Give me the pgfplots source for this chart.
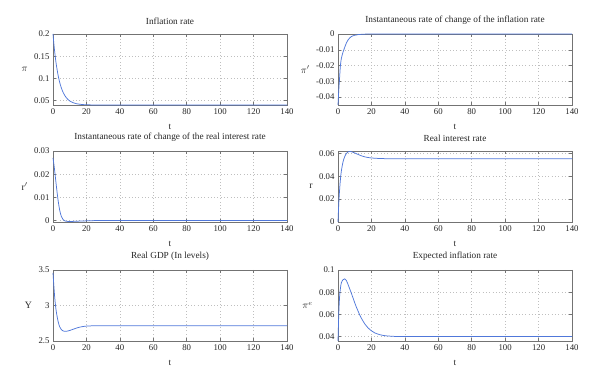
\documentclass[border=0pt]{standalone}
\usepackage{pgfplots}
\pgfplotsset{compat=1.18}
\usepackage{fontspec}
\setmainfont{Liberation Serif}
\definecolor{mblue}{RGB}{80,120,218}
\definecolor{framec}{RGB}{115,115,115}
\pgfplotsset{
 myax/.style={
  scale only axis, width=234bp, height=71bp,
  anchor=south west,
  xmin=0, xmax=140, xtick={0,20,...,140},
  grid=major, grid style={dash pattern=on 0.7pt off 2.6pt, black!25, line width=0.5pt},
  axis line style={framec, line width=0.8pt},
  tick style={framec, line width=0.5pt},
  major tick length=3bp,
  tick align=inside,
  clip=false,
  every tick label/.append style={font=\fontsize{8.8}{10}\selectfont, text=black!85},
  /pgf/number format/assume math mode=true,
  scaled y ticks=false,
  yticklabel style={/pgf/number format/fixed, /pgf/number format/precision=3},
  title style={font=\fontsize{9.3}{11}\selectfont, text=black!85},
  xlabel={t},
  xlabel style={font=\fontsize{9.3}{11}\selectfont, yshift=-3bp, text=black!85},
  every axis y label/.style={at={(ticklabel cs:0.5)}, anchor=east, inner sep=3bp, font=\fontsize{9.8}{11}\selectfont, text=black!85},
 },
 myline/.style={mblue, line width=0.75pt, smooth, no marks}
}
\begin{document}
\begin{tikzpicture}
\path (0,0) rectangle (600bp,388bp);
% 1 Inflation rate
\begin{axis}[myax, at={(53bp,283bp)}, title={Inflation rate}, ylabel={$\pi$},
  ymin=0.04, ymax=0.2, ytick={0.05,0.1,0.15,0.2}]
\addplot[myline] coordinates {(0,0.2) (0.5,0.1787) (1,0.1602) (1.5,0.1442) (2,0.1304) (3,0.1079) (4,0.0910) (5,0.0784) (6,0.0688) (7,0.0617) (8,0.0563) (9,0.0522) (10,0.0492) (12,0.0452) (14,0.0429) (16,0.0417) (18,0.0409) (20,0.0405) (25,0.0401) (30,0.04) (60,0.04) (100,0.04) (140,0.04)};
\end{axis}
% 2 pi'
\begin{axis}[myax, at={(338bp,283bp)}, title={Instantaneous rate of change of the inflation rate}, ylabel={$\pi'$},
  ymin=-0.045, ymax=0, ytick={-0.04,-0.03,-0.02,-0.01,0}]
\addplot[myline] coordinates {(0,-0.045) (0.5,-0.035) (1,-0.027) (1.4,-0.0205) (2,-0.0155) (3,-0.0115) (3.5,-0.0100) (4,-0.0085) (5,-0.0057) (6,-0.0038) (7,-0.0025) (8,-0.0016) (10,-0.0008) (12,-0.0004) (14,-0.0002) (17,-0.00005) (20,0) (30,0) (80,0) (140,0)};
\end{axis}
% 3 r'
\begin{axis}[myax, at={(53bp,166bp)}, title={Instantaneous rate of change of the real interest rate}, ylabel={r$'$},
  ymin=-0.0006, ymax=0.03, ytick={0,0.01,0.02,0.03}]
\addplot[myline] coordinates {(0,0.027) (0.5,0.0245) (1,0.0215) (2,0.0150) (3,0.0090) (4,0.0045) (5,0.0018) (6,0.0005) (7,-0.0001) (8,-0.0003) (10,-0.0004) (13,-0.0003) (16,-0.0002) (20,-0.0001) (25,0) (40,0) (80,0) (140,0)};
\end{axis}
% 4 r
\begin{axis}[myax, at={(338bp,166bp)}, title={Real interest rate}, ylabel={r},
  ymin=0, ymax=0.062, ytick={0,0.02,0.04,0.06}]
\addplot[myline] coordinates {(0,0) (0.3,0.011) (0.6,0.020) (1,0.029) (1.5,0.038) (2,0.0445) (3,0.0525) (4,0.0570) (5,0.0598) (6,0.0612) (7,0.0616) (8,0.0614) (10,0.0603) (12,0.0590) (14,0.0578) (16,0.0569) (18,0.0563) (20,0.0559) (23,0.0556) (26,0.0554) (30,0.0553) (40,0.0553) (80,0.0553) (140,0.0553)};
\end{axis}
% 5 Y
\begin{axis}[myax, at={(53bp,47bp)}, title={Real GDP (In levels)}, ylabel={Y},
  ymin=2.5, ymax=3.5, ytick={2.5,3,3.5}]
\addplot[myline] coordinates {(0,3.46) (0.5,3.28) (1,3.12) (1.5,3.0) (2,2.91) (3,2.78) (4,2.70) (5,2.66) (6,2.642) (7,2.636) (8,2.637) (10,2.648) (12,2.665) (14,2.682) (16,2.695) (18,2.704) (20,2.710) (25,2.715) (30,2.716) (60,2.716) (140,2.716)};
\end{axis}
% 6 pi^e
\begin{axis}[myax, at={(338bp,47bp)}, title={Expected inflation rate}, ylabel={$\pi^e$},
  ymin=0.036, ymax=0.1, ytick={0.04,0.06,0.08,0.1}]
\addplot[myline] coordinates {(0,0.036) (0.5,0.062) (1,0.077) (1.5,0.084) (2,0.0885) (3,0.0912) (4,0.0920) (5,0.0905) (6,0.0870) (7,0.0830) (8,0.0790) (9,0.0748) (10,0.0705) (11,0.0665) (12,0.0630) (13,0.0595) (14,0.0565) (16,0.0515) (18,0.0478) (20,0.0452) (22,0.0433) (25,0.0417) (28,0.0408) (32,0.0403) (40,0.0400) (80,0.04) (140,0.04)};
\end{axis}
\end{tikzpicture}
\end{document}
